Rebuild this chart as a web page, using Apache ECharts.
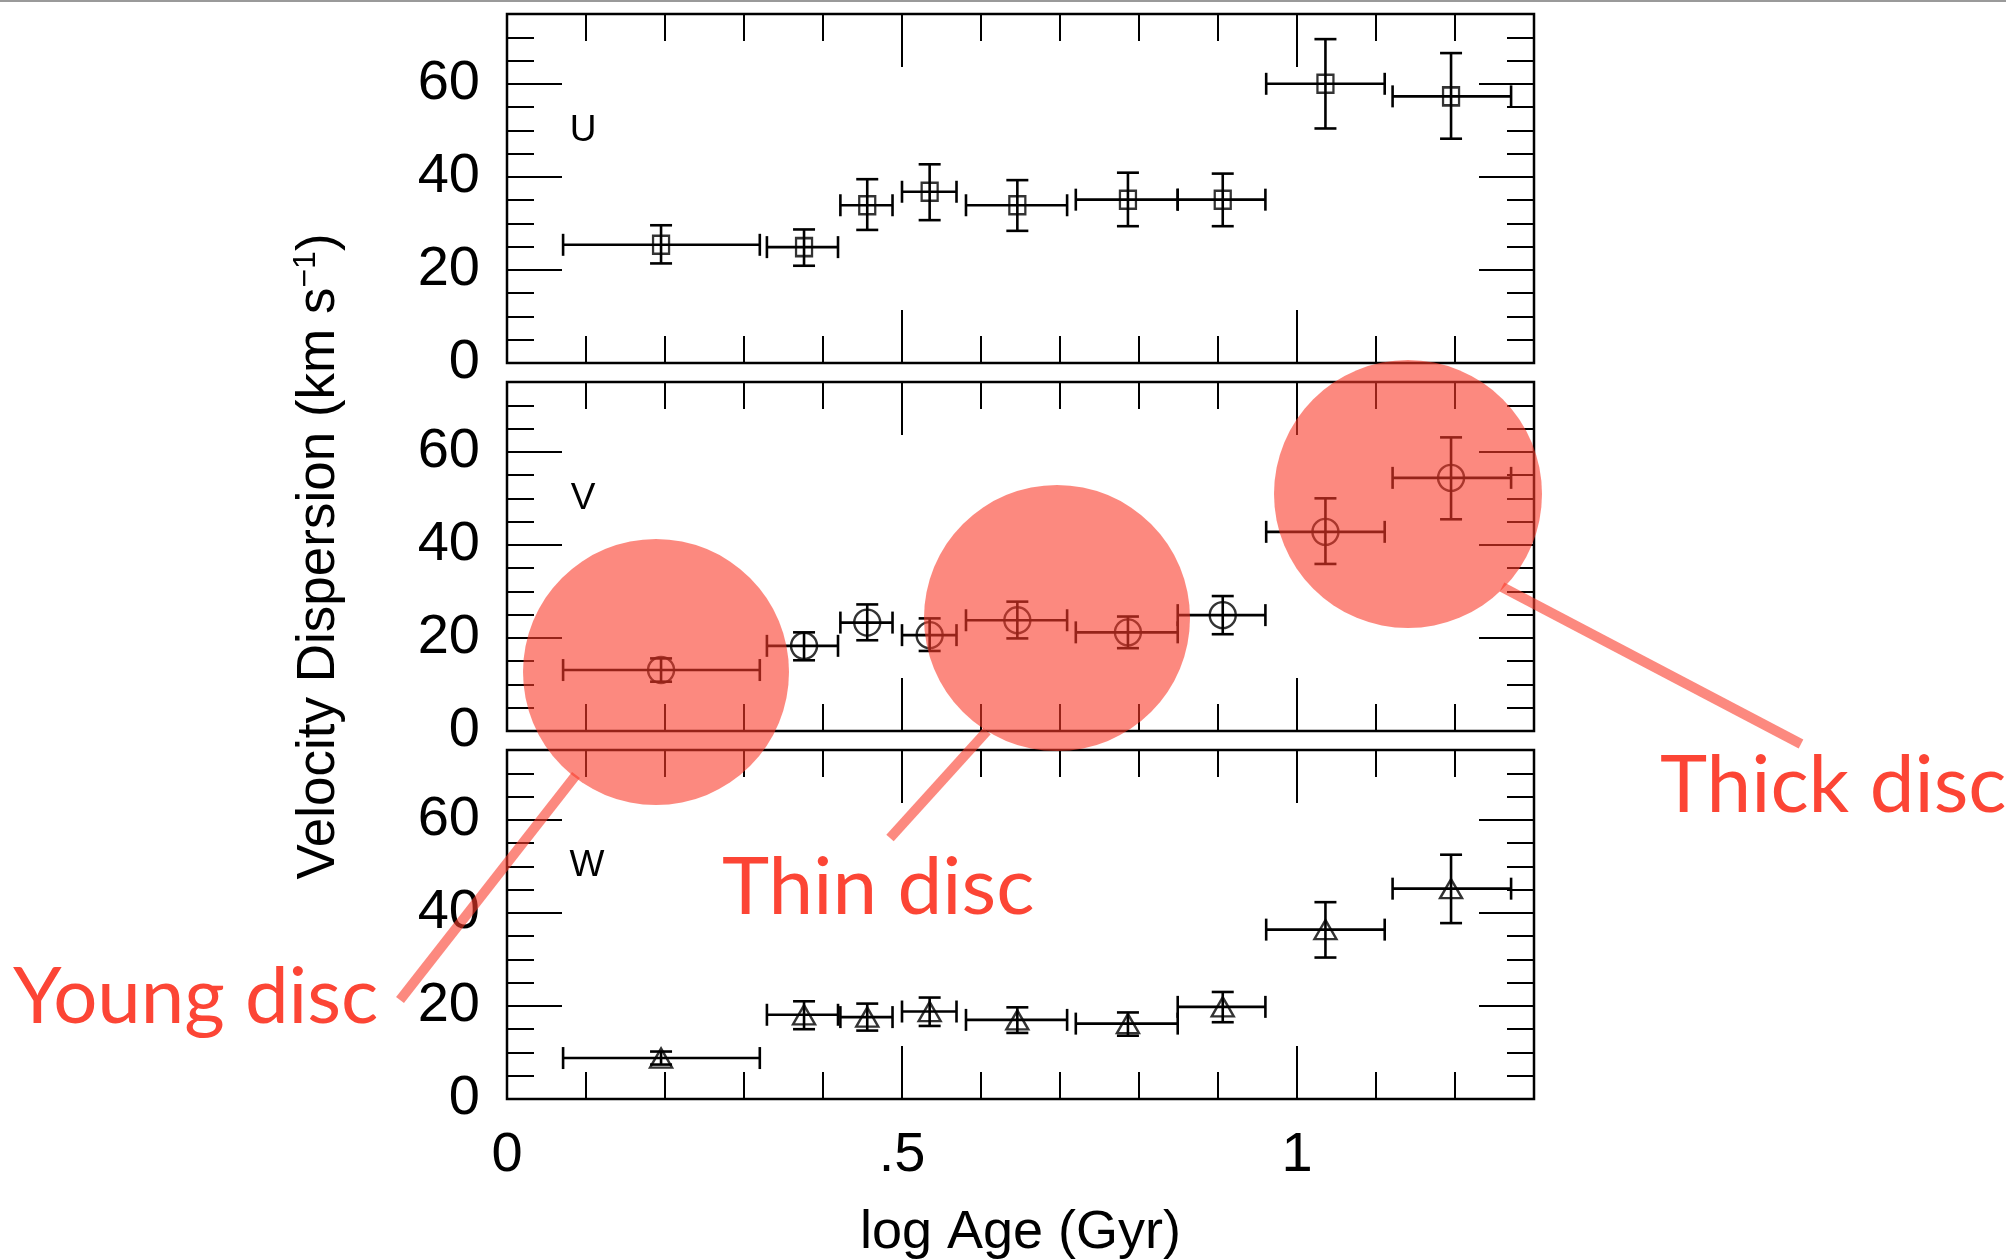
<!DOCTYPE html>
<html><head><meta charset="utf-8">
<script src="https://cdn.jsdelivr.net/npm/echarts@6/dist/echarts.min.js"></script>
<style>html,body{margin:0;padding:0;background:#fff}#c{width:2006px;height:1260px}</style>
</head><body><div id="c"></div>
<script>
// ---- data ----
const ageCenter = [0.195, 0.376, 0.456, 0.535, 0.646, 0.786, 0.906, 1.036, 1.195];
const ageLo     = [0.071, 0.329, 0.422, 0.500, 0.581, 0.720, 0.849, 0.961, 1.121];
const ageHi     = [0.320, 0.419, 0.488, 0.569, 0.709, 0.849, 0.960, 1.111, 1.271];

const uVal = [25.4, 24.9, 33.9, 36.8, 33.9, 35.1, 35.1, 60.0, 57.3];
const uLo  = [21.4, 20.9, 28.6, 30.7, 28.4, 29.4, 29.4, 50.4, 48.2];
const uHi  = [29.6, 28.7, 39.5, 42.7, 39.3, 40.9, 40.7, 69.6, 66.6];

const vVal = [13.1, 18.3, 23.3, 20.6, 23.8, 21.2, 24.9, 42.8, 54.4];
const vLo  = [10.6, 15.2, 19.5, 17.2, 19.9, 17.8, 20.8, 35.9, 45.5];
const vHi  = [15.6, 21.2, 27.2, 24.2, 27.8, 24.6, 29.0, 50.0, 63.1];

const wVal = [8.8, 18.1, 17.6, 18.8, 17.0, 16.2, 19.8, 36.4, 45.2];
const wLo  = [7.4, 15.0, 14.7, 15.7, 14.2, 13.6, 16.5, 30.4, 37.8];
const wHi  = [10.2, 21.0, 20.5, 21.8, 19.7, 18.6, 23.0, 42.3, 52.5];

const xTickLabels = {'0': '0', '0.5': '.5', '1': '1'};
const yTickLabels = {'0': '0', '20': '20', '40': '40', '60': '60'};
const panelNames = ['U', 'V', 'W'];
const panelSymbols = ['rect', 'circle', 'triangle'];
const annotations = ['Young disc', 'Thin disc', 'Thick disc'];

const panels = [
  {val: uVal, lo: uLo, hi: uHi},
  {val: vVal, lo: vLo, hi: vHi},
  {val: wVal, lo: wLo, hi: wHi}
];

// ---- layout ----
const gridTops = [14, 382, 750];
const GL = 507, GW = 1027, GH = 349;
const symbolSizes = [[16, 18], 26, [22, 19]];
const FONT = "'Liberation Sans', Arial, Helvetica, sans-serif";

const grids = gridTops.map(t => ({left: GL, top: t, width: GW, height: GH, show: true,
  borderColor: '#000', borderWidth: 2.5, backgroundColor: 'transparent', containLabel: false, outerBoundsMode: 'none'}));

const tickStyle = {color: '#000', width: 2};
const noLine = {show: false, onZero: false};
const xAxes = [], yAxes = [];
for (let g = 0; g < 3; g++) {
  ['bottom', 'top'].forEach(pos => {
    xAxes.push({gridIndex: g, type: 'value', min: 0, max: 1.3, interval: 0.1, position: pos,
      axisLine: noLine, splitLine: {show: false}, axisLabel: {show: false},
      axisTick: {show: true, inside: true, length: 27, lineStyle: tickStyle}});
    const major = {gridIndex: g, type: 'value', min: 0, max: 1.3, interval: 0.5, position: pos,
      axisLine: noLine, splitLine: {show: false},
      axisTick: {show: true, inside: true, length: 53, lineStyle: tickStyle},
      axisLabel: {show: (g === 2 && pos === 'bottom'), margin: 29, fontSize: 56, color: '#000', fontFamily: FONT,
        showMaxLabel: false,
        formatter: v => { const k = String(Math.round(v * 10) / 10); return xTickLabels[k] !== undefined ? xTickLabels[k] : ''; }}};
    if (g === 2 && pos === 'bottom') {
      major.name = 'log Age (Gyr)';
      major.nameLocation = 'middle';
      major.nameGap = 107;
      major.nameTextStyle = {fontSize: 54, color: '#000', fontFamily: FONT};
    }
    xAxes.push(major);
  });
  ['left', 'right'].forEach(pos => {
    yAxes.push({gridIndex: g, type: 'value', min: 0, max: 75, interval: 5, position: pos,
      axisLine: noLine, splitLine: {show: false}, axisLabel: {show: false},
      axisTick: {show: true, inside: true, length: 27, lineStyle: tickStyle}});
    const major = {gridIndex: g, type: 'value', min: 0, max: 75, interval: 20, position: pos,
      axisLine: noLine, splitLine: {show: false},
      axisTick: {show: true, inside: true, length: 55, lineStyle: tickStyle},
      axisLabel: {show: pos === 'left', margin: 27, fontSize: 56, color: '#000', fontFamily: FONT,
        showMaxLabel: false,
        formatter: v => { const k = String(Math.round(v)); return yTickLabels[k] !== undefined ? yTickLabels[k] : ''; }}};
    if (g === 1 && pos === 'left') {
      major.name = '{a|Velocity Dispersion (km s}{s|\u22121}{a|)}';
      major.nameLocation = 'middle';
      major.nameGap = 157;
      major.nameRotate = 90;
      major.nameMoveOverlap = false;
      major.nameTextStyle = {color: '#000', fontFamily: FONT, fontSize: 53,
        rich: {a: {fontSize: 53, fontFamily: FONT, color: '#000', lineHeight: 62},
               s: {fontSize: 32, fontFamily: FONT, color: '#000', lineHeight: 62, padding: [0, 0, 26, 0]}}};
    }
    yAxes.push(major);
  });
}

function errRender(params, api) {
  const x = api.value(0), xl = api.value(1), xh = api.value(2);
  const y = api.value(3), yl = api.value(4), yh = api.value(5);
  const pL = api.coord([xl, y]), pR = api.coord([xh, y]);
  const pB = api.coord([x, yl]), pT = api.coord([x, yh]);
  const c = 11;
  const mk = (x1, y1, x2, y2) => ({type: 'line', shape: {x1, y1, x2, y2}, style: {stroke: '#000', lineWidth: 2.6}});
  return {type: 'group', children: [
    mk(pL[0], pL[1], pR[0], pR[1]),
    mk(pL[0], pL[1] - c, pL[0], pL[1] + c),
    mk(pR[0], pR[1] - c, pR[0], pR[1] + c),
    mk(pB[0], pB[1], pT[0], pT[1]),
    mk(pB[0] - c, pB[1], pB[0] + c, pB[1]),
    mk(pT[0] - c, pT[1], pT[0] + c, pT[1])
  ]};
}

const series = [];
panels.forEach((p, g) => {
  const rows = ageCenter.map((x, i) => [x, ageLo[i], ageHi[i], p.val[i], p.lo[i], p.hi[i]]);
  series.push({type: 'custom', name: panelNames[g] + ' err', xAxisIndex: 4 * g, yAxisIndex: 4 * g,
    renderItem: errRender, data: rows, encode: {x: 0, y: 3}, clip: false, silent: true, z: 3});
  series.push({type: 'scatter', name: panelNames[g], xAxisIndex: 4 * g, yAxisIndex: 4 * g,
    data: ageCenter.map((x, i) => [x, p.val[i]]), symbol: panelSymbols[g], symbolSize: symbolSizes[g],
    itemStyle: {color: 'rgba(0,0,0,0)', borderColor: '#000', borderWidth: 2.4}, silent: true, z: 4});
});

const RED_FILL = 'rgba(250,58,42,0.6)';
const RED_TEXT = '#fc4535';
const AFONT = "Lato, 'Open Sans', sans-serif";
const graphic = [
  {type: 'rect', shape: {x: 0, y: 0, width: 2006, height: 2}, style: {fill: '#9a9a9a'}, silent: true},
  {type: 'text', x: 583, y: 131, style: {text: panelNames[0], fontSize: 37, fontFamily: FONT, fill: '#000', align: 'center', verticalAlign: 'middle'}},
  {type: 'text', x: 583, y: 499, style: {text: panelNames[1], fontSize: 37, fontFamily: FONT, fill: '#000', align: 'center', verticalAlign: 'middle'}},
  {type: 'text', x: 587, y: 866, style: {text: panelNames[2], fontSize: 37, fontFamily: FONT, fill: '#000', align: 'center', verticalAlign: 'middle'}},
  {type: 'circle', shape: {cx: 656, cy: 672, r: 133}, style: {fill: RED_FILL}, z: 100},
  {type: 'circle', shape: {cx: 1057, cy: 618, r: 133}, style: {fill: RED_FILL}, z: 100},
  {type: 'circle', shape: {cx: 1408, cy: 494, r: 134}, style: {fill: RED_FILL}, z: 100},
  {type: 'line', shape: {x1: 400, y1: 1000, x2: 576, y2: 775}, style: {stroke: RED_FILL, lineWidth: 10, lineCap: 'butt'}, z: 100},
  {type: 'line', shape: {x1: 890, y1: 838, x2: 987, y2: 731}, style: {stroke: RED_FILL, lineWidth: 10, lineCap: 'butt'}, z: 100},
  {type: 'line', shape: {x1: 1801, y1: 744, x2: 1502, y2: 587}, style: {stroke: RED_FILL, lineWidth: 10, lineCap: 'butt'}, z: 100},
  {type: 'text', x: 13, y: 998, style: {text: annotations[0], fontSize: 78, fontFamily: AFONT, fill: RED_TEXT, align: 'left', verticalAlign: 'middle'}, z: 100},
  {type: 'text', x: 722, y: 888, style: {text: annotations[1], fontSize: 80, fontFamily: AFONT, fill: RED_TEXT, align: 'left', verticalAlign: 'middle'}, z: 100},
  {type: 'text', x: 1660, y: 786, style: {text: annotations[2], fontSize: 80, fontFamily: AFONT, fill: RED_TEXT, align: 'left', verticalAlign: 'middle'}, z: 100}
];

const chart = echarts.init(document.getElementById('c'), null, {renderer: 'canvas'});
chart.setOption({
  animation: false,
  backgroundColor: '#fff',
  grid: grids,
  xAxis: xAxes,
  yAxis: yAxes,
  series: series,
  graphic: graphic
});
</script></body></html>
